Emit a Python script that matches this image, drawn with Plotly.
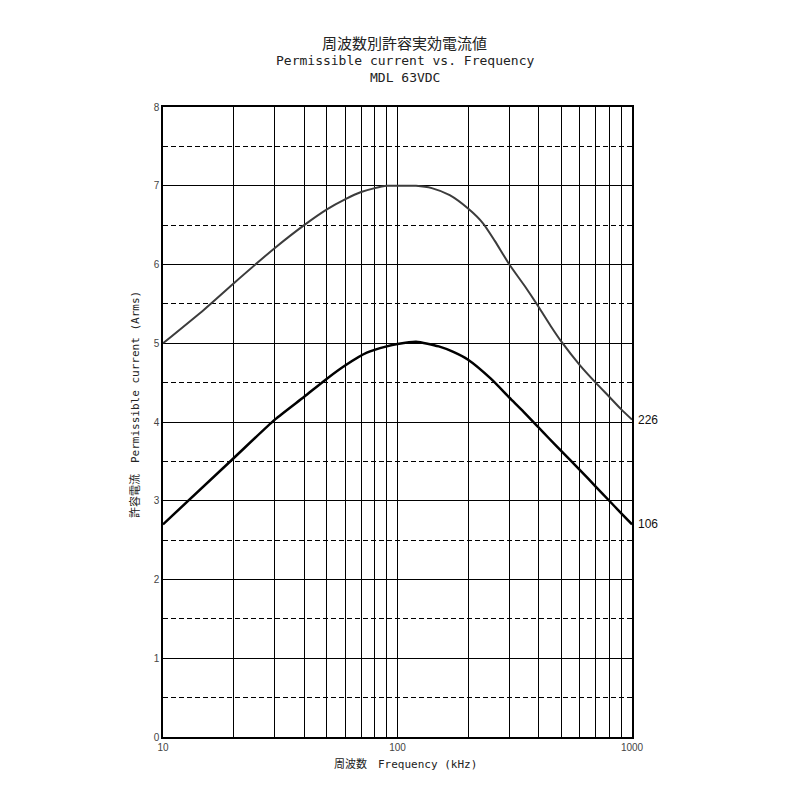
import plotly.graph_objects as go

# ---- data ----
freq_226 = [10, 15, 20, 30, 40, 50, 60, 70, 80, 90, 100, 120, 140, 167, 200, 232, 260, 300, 350, 400, 450, 500, 600, 700, 800, 900, 1000]
amps_226 = [5.0, 5.43, 5.76, 6.21, 6.5, 6.7, 6.83, 6.92, 6.97, 7.0, 7.0, 7.0, 6.97, 6.88, 6.71, 6.52, 6.3, 6.0, 5.72, 5.46, 5.22, 5.02, 4.72, 4.5, 4.32, 4.16, 4.03]

freq_106 = [10, 20, 30, 40, 50, 60, 74, 90, 100, 120, 150, 173, 200, 250, 300, 345, 400, 440, 500, 600, 700, 800, 900, 1000]
amps_106 = [2.7, 3.54, 4.03, 4.32, 4.55, 4.72, 4.88, 4.96, 4.99, 5.02, 4.96, 4.89, 4.79, 4.55, 4.31, 4.13, 3.93, 3.8, 3.63, 3.39, 3.18, 3.0, 2.84, 2.7]

series_labels = ["226", "106"]

x_grid = [10, 20, 30, 40, 50, 60, 70, 80, 90, 100, 200, 300, 400, 500, 600, 700, 800, 900, 1000]
x_tick_text = ["10" if v == 10 else "100" if v == 100 else "1000" if v == 1000 else "" for v in x_grid]
y_ticks = [0, 1, 2, 3, 4, 5, 6, 7, 8]

title_lines = ["周波数別許容実効電流値", "Permissible current vs. Frequency", "MDL 63VDC"]
x_title = "周波数　Frequency (kHz)"
y_title = "許容電流　Permissible current (Arms)"

FONT = "DejaVu Sans Mono, Noto Sans CJK JP, sans-serif"
LAB = "Liberation Sans, Arial, sans-serif"

fig = go.Figure()
fig.add_trace(go.Scatter(x=freq_226, y=amps_226, mode="lines",
                         line=dict(color="#3c3c3c", width=2, shape="spline", smoothing=0.6),
                         showlegend=False, hoverinfo="skip"))
fig.add_trace(go.Scatter(x=freq_106, y=amps_106, mode="lines",
                         line=dict(color="#000000", width=2.5, shape="spline", smoothing=0.6),
                         showlegend=False, hoverinfo="skip"))

for lab, yv in zip(series_labels, [amps_226[-1], amps_106[-1]]):
    fig.add_annotation(x=3, y=yv, xref="x", yref="y", text=lab, showarrow=False,
                       xanchor="left", yanchor="middle", xshift=4,
                       font=dict(family=LAB, size=12, color="#111"))

for txt, ys, sz in zip(title_lines, [63, 47, 30], [15, 13, 13]):
    fig.add_annotation(x=0.5, y=1, xref="paper", yref="paper", yshift=ys, xshift=7,
                       text=txt, showarrow=False, xanchor="center", yanchor="middle",
                       font=dict(family=FONT, size=sz, color="#222"))

# axis titles
fig.add_annotation(x=0.5, y=0, xref="paper", yref="paper", yshift=-27, xshift=8,
                   text=x_title, showarrow=False, xanchor="center", yanchor="middle",
                   font=dict(family=FONT, size=11, color="#222"))
fig.add_annotation(x=0, y=0.5, xref="paper", yref="paper", xshift=-28, yshift=17,
                   text=y_title, showarrow=False, textangle=-90, xanchor="center", yanchor="middle",
                   font=dict(family=FONT, size=11, color="#222"))

fig.update_layout(
    width=792, height=792,
    margin=dict(l=155, r=168, t=99, b=63),
    paper_bgcolor="white", plot_bgcolor="white",
    font=dict(family=FONT, color="#333"),
    xaxis=dict(type="log", range=[1, 3], tickvals=x_grid, ticktext=x_tick_text,
               automargin=False,
               showgrid=True, gridcolor="black", gridwidth=1,
               showline=True, linecolor="black", linewidth=1.5, mirror=True,
               ticks="", tickfont=dict(size=10, color="#444", family=LAB),
               zeroline=False),
    yaxis=dict(range=[0, 8], tickvals=y_ticks, automargin=False,
               showgrid=True, gridcolor="black", gridwidth=1,
               minor=dict(dtick=0.5, showgrid=True, gridcolor="black", gridwidth=1, griddash="5px,3px"),
               showline=True, linecolor="black", linewidth=1.5, mirror=True,
               ticks="", tickfont=dict(size=10, color="#444", family=LAB),
               zeroline=False),
)

fig.write_html("out.html")
